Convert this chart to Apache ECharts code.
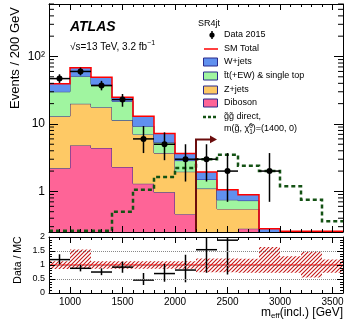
<!DOCTYPE html>
<html>
<head>
<meta charset="utf-8">
<script src="https://cdn.jsdelivr.net/npm/echarts@6/dist/echarts.min.js"></script>
<style>
html, body { margin: 0; padding: 0; background: #fff; }
#chart { width: 349px; height: 323px; }
</style>
</head>
<body>
<div id="chart"></div>
<script>
var FONT = '"Liberation Sans", Arial, Helvetica, sans-serif';
var YMIN = 0.25, YMAX = 600;

// bins of 200 GeV in m_eff(incl.)
var binEdges = [800, 1000, 1200, 1400, 1600, 1800, 2000, 2200, 2400, 2600, 2800, 3000, 3200, 3400, 3600];
// SM backgrounds (events / bin), bottom to top of the stack
var diboson = [2.2, 4.8, 4.4, 2.3, 1.3, 0.97, 0.46, 0.2, 0.2, 0.28, 0, 0, 0, 0];
var zjets   = [10.8, 15.1, 13.3, 9.0, 5.7, 2.73, 1.5, 0.9, 0.35, 0.27, 0, 0, 0, 0];
var ttbar   = [17.0, 31.1, 20.8, 10.4, 2.25, 1.65, 0.9, 0.4, 0.2, 0.18, 0, 0, 0, 0];
var wjets   = [9.4, 17.0, 10.9, 3.2, 3.75, 1.85, 0.8, 0.44, 0.31, 0.16, 0.28, 0, 0, 0];
// signal gg direct m(gluino, LSP) = (1400, 0)
var signal  = [0.2, 0.2, 0.2, 0.5, 1.06, 1.64, 2.22, 3.0, 3.5, 2.4, 2.0, 1.19, 0.75, 0.36];
// data 2015 with poisson intervals
var dataCounts = [47, 60, 37, 23, 6, 5, 3, 3, 2, null, 2, null, null, null];
var dataLow    = [40.5, 52.5, 31.5, 18.0, 3.7, 2.9, 1.4, 1.4, 0.7, null, 0.7, null, null, null];
var dataHigh   = [54.5, 68.5, 43.5, 27.8, 9.3, 7.5, 5.0, 5.0, 3.7, null, 3.7, null, null, null];
// relative MC uncertainty band (ratio panel)
var mcBandLow  = [0.86, 0.86, 0.87, 0.87, 0.87, 0.87, 0.87, 0.74, 0.74, 0.72, 0.72, 0.72, 0.55, 0.72];
var mcBandHigh = [1.13, 1.55, 1.13, 1.13, 1.13, 1.13, 1.13, 1.23, 1.23, 1.22, 1.64, 1.31, 1.47, 1.2];
// signal region cut
var cutValue = 2200, cutArrowTop = 5.9, cutArrowEnd = 2400;
// tick labels
var xTickLabels = [1000, 1500, 2000, 2500, 3000, 3500];
var logTickLabels = { '1': '1', '10': '10', '100': '10\u00b2' };
var logMinorTicks = [0.3, 0.4, 0.5, 0.6, 0.7, 0.8, 0.9, 2, 3, 4, 5, 6, 7, 8, 9,
                     20, 30, 40, 50, 60, 70, 80, 90, 200, 300, 400, 500, 600];

var colDib = '#fe6497', colZ = '#fec965', colTT = '#a0f5a0', colW = '#6090ef';
var navy = '#2b2b8c', red = '#ff0000', sigGreen = '#145214', arrowRed = '#6b0d0d';

function addArr(a, b) { return a.map(function (v, i) { return v + b[i]; }); }
var zeros = diboson.map(function () { return 0; });
var lvl1 = diboson.slice();
var lvl2 = addArr(lvl1, zjets);
var lvl3 = addArr(lvl2, ttbar);
var total = addArr(lvl3, wjets);

function binRows(lo, hi) {
	return binEdges.slice(0, -1).map(function (e, i) { return [e, binEdges[i + 1], lo[i], hi[i]]; });
}

// step shaped histogram (fill between lo/hi, outline on hi)
function stepSeries(rows, opt) {
	return {
		type: 'custom', xAxisIndex: opt.xi, yAxisIndex: opt.yi, z: opt.z, silent: true,
		encode: { x: [0, 1], y: [2, 3] }, data: rows,
		renderItem: function (params, api) {
			if (params.dataIndexInside !== 0) return null;
			var cs = params.coordSys, bottom = cs.y + cs.height - (opt.lift || 0);
			var n = params.dataInsideLength;
			var P = function (x, v) {
				var p = api.coord([x, Math.min(Math.max(v, opt.floor), opt.ceil)]);
				return [p[0], Math.min(p[1], bottom)];
			};
			var up = [], lo = [], j;
			for (j = 0; j < n; j++) {
				up.push(P(api.value(0, j), api.value(3, j)), P(api.value(1, j), api.value(3, j)));
			}
			for (j = n - 1; j >= 0; j--) {
				lo.push(P(api.value(1, j), api.value(2, j)), P(api.value(0, j), api.value(2, j)));
			}
			var ch = [];
			if (opt.fill) ch.push({ type: 'polygon', shape: { points: up.concat(lo) }, style: { fill: opt.fill } });
			if (opt.stroke) ch.push({ type: 'polyline', shape: { points: up },
				style: { fill: null, stroke: opt.stroke, lineWidth: opt.lineWidth, lineDash: opt.dash || null } });
			return { type: 'group', children: ch };
		}
	};
}

// data points with error bars
function errorSeries(rows, opt) {
	return {
		type: 'custom', xAxisIndex: opt.xi, yAxisIndex: opt.yi, z: opt.z, silent: true,
		encode: { x: [0, 1], y: [2, 3, 4] }, data: rows,
		renderItem: function (params, api) {
			var x0 = api.value(0), x1 = api.value(1), v = api.value(2);
			var lo = Math.max(api.value(3), opt.floor), hi = Math.min(api.value(4), opt.ceil);
			var ch = [], st = { stroke: '#000', lineWidth: 1.5 };
			var mid = (x0 + x1) / 2;
			if (hi > lo) {
				var t = api.coord([mid, hi]), b = api.coord([mid, lo]);
				ch.push({ type: 'line', shape: { x1: t[0], y1: t[1], x2: b[0], y2: b[1] }, style: st });
			}
			if (v <= opt.ceil && v >= opt.floor) {
				var l = api.coord([x0, v]), r = api.coord([x1, v]);
				ch.push({ type: 'line', shape: { x1: l[0], y1: l[1], x2: r[0], y2: r[1] }, style: st });
				if (opt.dot) {
					var c = api.coord([mid, v]);
					ch.push({ type: 'circle', shape: { cx: c[0], cy: c[1], r: 3 }, style: { fill: '#000' } });
				}
			}
			return { type: 'group', children: ch };
		}
	};
}

var mainRows = [], ratioRows = [];
for (var i = 0; i < dataCounts.length; i++) {
	if (dataCounts[i] == null) continue;
	mainRows.push([binEdges[i], binEdges[i + 1], dataCounts[i], dataLow[i], dataHigh[i]]);
	ratioRows.push([binEdges[i], binEdges[i + 1], dataCounts[i] / total[i], dataLow[i] / total[i], dataHigh[i] / total[i]]);
}

// hatch for MC uncertainty
var hatch = document.createElement('canvas');
hatch.width = 4; hatch.height = 4;
var hg = hatch.getContext('2d');
hg.strokeStyle = '#c41a1a'; hg.lineWidth = 1.1;
hg.beginPath();
hg.moveTo(0, 4); hg.lineTo(4, 0);
hg.moveTo(-1, 1); hg.lineTo(1, -1);
hg.moveTo(3, 5); hg.lineTo(5, 3);
hg.stroke();

function xAxisCfg(grid, pos, labels) {
	return {
		type: 'value', gridIndex: grid, position: pos, min: 800, max: 3600, splitNumber: 5, z: 10,
		axisLine: { show: true, onZero: false, lineStyle: { color: '#000', width: 1 } },
		axisTick: { show: true, inside: true, length: 6, lineStyle: { color: '#000' } },
		minorTick: { show: true, splitNumber: 5, length: 3, lineStyle: { color: '#000' } },
		splitLine: { show: false },
		axisLabel: { show: labels, color: '#000', fontSize: 10, fontFamily: FONT, margin: 4,
			showMinLabel: false, showMaxLabel: false,
			formatter: function (v) { return xTickLabels.indexOf(v) >= 0 ? String(v) : ''; } }
	};
}
function logAxisCfg(pos, labels) {
	return {
		type: 'log', logBase: 10, gridIndex: 0, position: pos, min: YMIN, max: YMAX, z: 10,
		axisLine: { show: true, onZero: false, lineStyle: { color: '#000', width: 1 } },
		axisTick: { show: true, inside: true, length: 9, lineStyle: { color: '#000' } },
		splitLine: { show: false },
		axisLabel: { show: labels, color: '#000', fontSize: 12, fontFamily: FONT, margin: 4,
			showMinLabel: false, showMaxLabel: false,
			formatter: function (v) {
				var k = String(Math.round(v * 1000) / 1000);
				return logTickLabels[k] || '';
			} }
	};
}
function ratioAxisCfg(pos, labels) {
	return {
		type: 'value', gridIndex: 1, position: pos, min: 0, max: 2, interval: 0.5, z: 10,
		axisLine: { show: true, onZero: false, lineStyle: { color: '#000', width: 1 } },
		axisTick: { show: true, inside: true, length: 6, lineStyle: { color: '#000' } },
		minorTick: { show: true, splitNumber: 5, length: 3, lineStyle: { color: '#000' } },
		splitLine: { show: labels, lineStyle: { type: 'dotted', color: '#888', width: 1 } },
		axisLabel: { show: labels, color: '#000', fontSize: 9, fontFamily: FONT, margin: 4 }
	};
}

// text helpers
var mctx = document.createElement('canvas').getContext('2d');
function tw(t, size, style) {
	mctx.font = (style || '') + ' ' + size + 'px ' + FONT;
	return mctx.measureText(t).width;
}
function txt(t, x, y, size, extra) {
	var s = { text: t, x: 0, y: 0, fill: '#000', fontSize: size, fontFamily: FONT,
		textAlign: 'left', align: 'left', textVerticalAlign: 'middle', verticalAlign: 'middle' };
	for (var k in (extra || {})) s[k] = extra[k];
	return { type: 'text', x: x, y: y, z: 20, style: s, silent: true };
}
// parts: [text, size, dy, noAdvance]
function segLine(parts, x, y, alignRight) {
	var w = 0;
	parts.forEach(function (p) { if (!p[3]) w += tw(p[0], p[1]); });
	var cx = alignRight ? x - w : x, out = [];
	parts.forEach(function (p) {
		out.push(txt(p[0], cx, y + (p[2] || 0), p[1]));
		if (!p[3]) cx += tw(p[0], p[1]);
	});
	return out;
}

var graphics = [];
graphics.push(txt('ATLAS', 70, 27.5, 14, { fontWeight: 'bold', fontStyle: 'italic' }));
graphics = graphics.concat(segLine([['\u221as=13 TeV, 3.2 fb', 10, 0], ['\u22121', 7, -3.5]], 70, 47));
graphics.push(txt('SR4jt', 198, 23.5, 9));
var LX = 203.5, TX = 224;
var legRows = [35, 49, 62, 76, 90, 103, 117, 129];
graphics.push({ type: 'line', z: 20, shape: { x1: 212, y1: 31, x2: 212, y2: 39 }, style: { stroke: '#000', lineWidth: 1.5 } });
graphics.push({ type: 'circle', z: 20, shape: { cx: 212, cy: 35, r: 2.6 }, style: { fill: '#000' } });
graphics.push(txt('Data 2015', TX, legRows[0], 9));
graphics.push({ type: 'line', z: 20, shape: { x1: 204, y1: legRows[1], x2: 218, y2: legRows[1] }, style: { stroke: red, lineWidth: 1.5 } });
graphics.push(txt('SM Total', TX, legRows[1], 9));
[[colW, 'W+jets'], [colTT, 't\u0304t(+EW) & single top'], [colZ, 'Z+jets'], [colDib, 'Diboson']].forEach(function (e, k) {
	var y = legRows[2 + k];
	graphics.push({ type: 'rect', z: 20, shape: { x: LX, y: y - 4, width: 14, height: 8 }, style: { fill: e[0], stroke: navy, lineWidth: 1 } });
	graphics.push(txt(e[1], TX, y, 9));
});
graphics.push({ type: 'line', z: 20, shape: { x1: 203, y1: legRows[6], x2: 218, y2: legRows[6] },
	style: { stroke: sigGreen, lineWidth: 2.5, lineDash: [3, 2] } });
graphics.push(txt('g\u0303g\u0303 direct,', TX, legRows[6], 9));
graphics = graphics.concat(segLine([['m(g\u0303, \u03c7\u0303', 9, 0], ['0', 6.5, -3, true], ['1', 6.5, 3], [')=(1400, 0)', 9, 0]], TX, legRows[7]));
// axis titles
graphics.push({ type: 'text', x: 15, y: 58, rotation: Math.PI / 2, z: 20, silent: true,
	style: { text: 'Events / 200 GeV', fill: '#000', fontSize: 13, fontFamily: FONT,
		textAlign: 'center', align: 'center', textVerticalAlign: 'middle', verticalAlign: 'middle' } });
graphics.push({ type: 'text', x: 18, y: 260, rotation: Math.PI / 2, z: 20, silent: true,
	style: { text: 'Data / MC', fill: '#000', fontSize: 10.5, fontFamily: FONT,
		textAlign: 'center', align: 'center', textVerticalAlign: 'middle', verticalAlign: 'middle' } });
graphics = graphics.concat(segLine([['m', 12, 0], ['eff', 8, 3], ['(incl.) [GeV]', 12, 0]], 343, 313, true));

var series = [
	stepSeries(binRows(zeros, lvl1), { xi: 0, yi: 0, z: 1, floor: YMIN, ceil: YMAX, fill: colDib, stroke: navy, lineWidth: 1 }),
	stepSeries(binRows(lvl1, lvl2), { xi: 0, yi: 0, z: 1, floor: YMIN, ceil: YMAX, fill: colZ, stroke: navy, lineWidth: 1 }),
	stepSeries(binRows(lvl2, lvl3), { xi: 0, yi: 0, z: 1, floor: YMIN, ceil: YMAX, fill: colTT, stroke: navy, lineWidth: 1 }),
	stepSeries(binRows(lvl3, total), { xi: 0, yi: 0, z: 1, floor: YMIN, ceil: YMAX, fill: colW }),
	stepSeries(binRows(total, total), { xi: 0, yi: 0, z: 2, floor: YMIN, ceil: YMAX, stroke: red, lineWidth: 1.5, lift: 0.8 }),
	stepSeries(binRows(signal, signal), { xi: 0, yi: 0, z: 3, floor: YMIN, ceil: YMAX, stroke: sigGreen, lineWidth: 2.5, dash: [4, 3], lift: 1.2 }),
	{
		type: 'custom', xAxisIndex: 0, yAxisIndex: 0, z: 4, silent: true,
		encode: { x: [0, 2], y: 1 }, data: [[cutValue, cutArrowTop, cutArrowEnd]],
		renderItem: function (params, api) {
			var cs = params.coordSys, bottom = cs.y + cs.height;
			var top = api.coord([api.value(0), api.value(1)]);
			var end = api.coord([api.value(2), api.value(1)]);
			return { type: 'group', children: [
				{ type: 'polyline', shape: { points: [[top[0], bottom], top, [end[0] - 6, top[1]]] },
					style: { fill: null, stroke: arrowRed, lineWidth: 2 } },
				{ type: 'polygon', shape: { points: [[end[0] - 7, top[1] - 3.8], [end[0], top[1]], [end[0] - 7, top[1] + 3.8]] },
					style: { fill: arrowRed } }
			] };
		}
	},
	errorSeries(mainRows, { xi: 0, yi: 0, z: 5, floor: YMIN, ceil: YMAX, dot: true }),
	{
		type: 'custom', xAxisIndex: 0, yAxisIndex: 0, z: 6, silent: true,
		encode: { x: 0, y: 1 }, data: logMinorTicks.map(function (v) { return [binEdges[0], v]; }),
		renderItem: function (params, api) {
			var cs = params.coordSys;
			var y = api.coord([api.value(0), api.value(1)])[1];
			var st = { stroke: '#000', lineWidth: 1 };
			return { type: 'group', children: [
				{ type: 'line', shape: { x1: cs.x, y1: y, x2: cs.x + 5, y2: y }, style: st },
				{ type: 'line', shape: { x1: cs.x + cs.width - 5, y1: y, x2: cs.x + cs.width, y2: y }, style: st }
			] };
		}
	},
	// ratio panel
	stepSeries(binRows(mcBandLow, mcBandHigh), { xi: 2, yi: 2, z: 1, floor: 0, ceil: 2, fill: { image: hatch, repeat: 'repeat' } }),
	{
		type: 'line', xAxisIndex: 2, yAxisIndex: 2, z: 2, silent: true, symbol: 'none',
		data: [[binEdges[0], 1], [binEdges[binEdges.length - 1], 1]],
		lineStyle: { color: red, width: 1 }
	},
	errorSeries(ratioRows, { xi: 2, yi: 2, z: 5, floor: 0, ceil: 2, dot: false })
];

var chart = echarts.init(document.getElementById('chart'));
chart.setOption({
	animation: false,
	backgroundColor: '#fff',
	textStyle: { fontFamily: FONT },
	grid: [
		{ left: 49, right: 6, top: 4, height: 228, outerBoundsMode: 'none' },
		{ left: 49, right: 6, top: 237, height: 56, outerBoundsMode: 'none' }
	],
	xAxis: [xAxisCfg(0, 'bottom', false), xAxisCfg(0, 'top', false), xAxisCfg(1, 'bottom', true), xAxisCfg(1, 'top', false)],
	yAxis: [logAxisCfg('left', true), logAxisCfg('right', false), ratioAxisCfg('left', true), ratioAxisCfg('right', false)],
	series: series,
	graphic: graphics
});
</script>
</body>
</html>
